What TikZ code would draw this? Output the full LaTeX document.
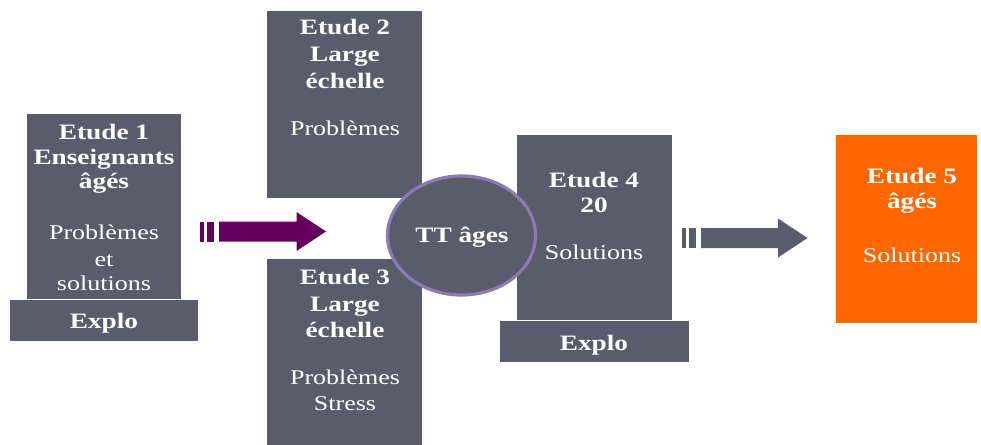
\documentclass[tikz,border=0pt]{standalone}
\usepackage{fontspec}
\usetikzlibrary{shapes.geometric}
\setmainfont{Liberation Serif}[FakeStretch=1.24]
\definecolor{slate}{HTML}{5A5B6B}
\definecolor{plum}{HTML}{66005F}
\definecolor{lilac}{HTML}{8C7BB1}
\definecolor{flame}{HTML}{FF6600}
\tikzset{
  panel/.style={fill=#1, draw=none, inner sep=0pt, anchor=north west},
  panel/.default=slate,
  hd/.style={text=white, inner sep=0pt, anchor=base, font=\bfseries\fontsize{22}{25}\selectfont},
  bd/.style={text=white, inner sep=0pt, anchor=base, font=\fontsize{21}{26}\selectfont},
}
\newcommand{\blockarrow}[5]{% colour, start x, centre y, tip x, half-height of head
  \fill[#1] (#2,#3-10) rectangle ++(4.5,20);
  \fill[#1] (#2+7.5,#3-10) rectangle ++(6.5,20);
  \fill[#1] (#2+19.5,#3-10) -- (#4-29.5,#3-10) -- (#4-29.5,#3-#5) -- (#4,#3)
            -- (#4-29.5,#3+#5) -- (#4-29.5,#3+10) -- (#2+19.5,#3+10) -- cycle;
}
\begin{document}
\begin{tikzpicture}[x=1pt,y=-1pt]
\useasboundingbox (0,0) rectangle (981,444);

% Etude 1 with its base
\node[panel, minimum width=154pt, minimum height=185pt] (e1) at (27,114) {};
\node[panel, minimum width=188pt, minimum height=41pt] (x1) at (10,300) {};
\node[hd] (e1a) at (104,139) {Etude 1};
\node[hd] (e1b) at (104,164) {Enseignants};
\node[hd] (e1c) at (104,188) {âgés};
\node[bd] (e1d) at (104,239) {Problèmes};
\node[bd] (e1e) at (104,266.5) {et};
\node[bd] (e1f) at (104,290.5) {solutions};
\node[hd] (x1t) at (104,328) {Explo};

% Etude 2 and Etude 3
\node[panel, minimum width=155pt, minimum height=187pt] (e2) at (267,11) {};
\node[hd] (e2a) at (345,35) {Etude 2};
\node[hd] (e2b) at (345,62) {Large};
\node[hd] (e2c) at (345,88) {échelle};
\node[bd] (e2d) at (345,135) {Problèmes};

\node[panel, minimum width=155pt, minimum height=186pt] (e3) at (267,259) {};
\node[hd] (e3a) at (345,284) {Etude 3};
\node[hd] (e3b) at (345,311) {Large};
\node[hd] (e3c) at (345,337) {échelle};
\node[bd] (e3d) at (345,384) {Problèmes};
\node[bd] (e3e) at (345,410) {Stress};

% Etude 4 with its base
\node[panel, minimum width=155pt, minimum height=185pt] (e4) at (517,135) {};
\node[panel, minimum width=189pt, minimum height=41pt] (x4) at (500,321) {};
\node[hd] (e4a) at (594,187) {Etude 4};
\node[hd] (e4b) at (594,212) {20};
\node[bd] (e4c) at (594,259) {Solutions};
\node[hd] (x4t) at (594,350) {Explo};

% central disc
\node[ellipse, fill=slate, draw=lilac, line width=3.2pt, inner sep=0pt,
      minimum width=148pt, minimum height=119pt] (tt) at (461.5,235.5) {};
\node[hd] (ttt) at (462,242) {TT âges};

% Etude 5
\node[panel=flame, minimum width=141pt, minimum height=188pt] (e5) at (836,135) {};
\node[hd] (e5a) at (912,183) {Etude 5};
\node[hd] (e5b) at (912,208) {âgés};
\node[bd] (e5c) at (912,262) {Solutions};

% striped block arrows
\blockarrow{plum}{199.5}{231.5}{326}{19.5}
\blockarrow{slate}{681.5}{238}{807.5}{19.5}
\end{tikzpicture}
\end{document}
